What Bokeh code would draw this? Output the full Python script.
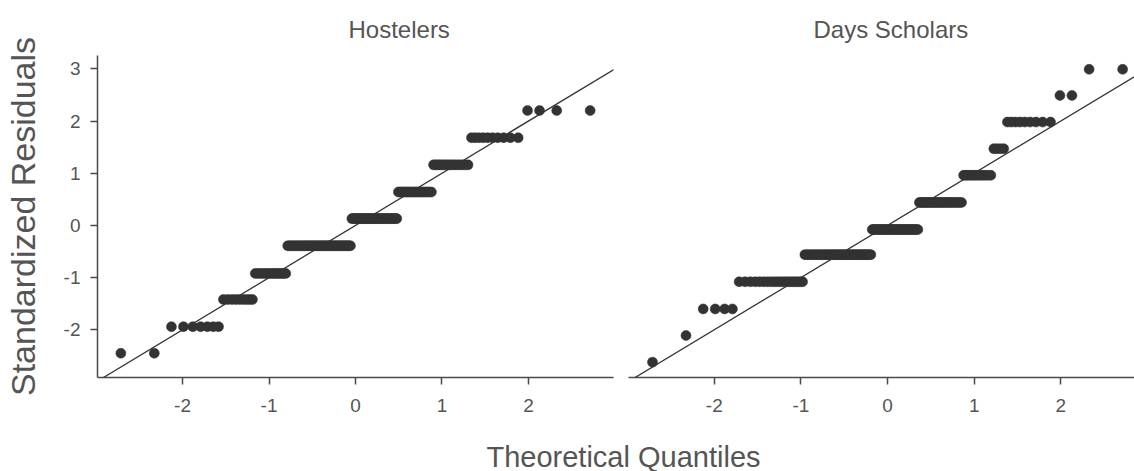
from statistics import NormalDist

import numpy as np
from bokeh.embed import file_html
from bokeh.layouts import column, row
from bokeh.models import FixedTicker, Label, Range1d, Slope
from bokeh.plotting import figure
from bokeh.resources import INLINE

# ---------------- data ----------------
panel_titles = ["Hostelers", "Days Scholars"]
x_title = "Theoretical Quantiles"
y_title = "Standardized Residuals"

# sorted standardized residuals: distinct levels and how many observations sit on each
hostelers_levels = [-2.45, -1.94, -1.42, -0.92, -0.39, 0.13, 0.64, 1.16, 1.68, 2.20]
hostelers_counts = [2, 7, 9, 14, 40, 31, 19, 14, 10, 4]

scholars_levels = [-2.62, -2.11, -1.60, -1.08, -0.56, -0.08, 0.44, 0.96, 1.47, 1.98, 2.49, 2.99]
scholars_counts = [1, 1, 4, 19, 39, 32, 25, 12, 4, 9, 2, 2]

x_ticks = [-2, -1, 0, 1, 2]
x_tick_labels = ["-2", "-1", "0", "1", "2"]
y_ticks = [-2, -1, 0, 1, 2, 3]
y_tick_labels = ["-2", "-1", "0", "1", "2", "3"]


def qq(levels, counts):
    """Sample residuals (sorted) against normal theoretical quantiles."""
    resid = np.repeat(np.asarray(levels, dtype=float), counts)
    n = len(resid)
    nd = NormalDist()
    theo = np.array([nd.inv_cdf((i + 0.5) / n) for i in range(n)])
    return theo, resid


# ---------------- styling ----------------
FONT = "Liberation Sans"
TXT = "#555555"
AXC = "#4a4a4a"
MARK = "#333333"


def style(p, show_y):
    p.xgrid.visible = False
    p.ygrid.visible = False
    p.outline_line_color = None
    p.background_fill_color = "white"
    p.border_fill_color = "white"

    axes = [p.xaxis[0]] + ([p.yaxis[0]] if show_y else [])
    for ax in axes:
        ax.axis_line_color = AXC
        ax.axis_line_width = 1.5
        ax.major_tick_line_color = AXC
        ax.major_tick_line_width = 1.5
        ax.major_tick_out = 7
        ax.major_tick_in = 0
        ax.minor_tick_line_color = None
        ax.major_label_text_font = FONT
        ax.major_label_text_font_size = "19px"
        ax.major_label_text_color = TXT
        ax.major_label_standoff = 10

    p.xaxis.major_label_standoff = 14
    p.xaxis.ticker = FixedTicker(ticks=x_ticks)
    p.xaxis.major_label_overrides = {t: s for t, s in zip(x_ticks, x_tick_labels)}
    if show_y:
        p.yaxis.ticker = FixedTicker(ticks=y_ticks)
        p.yaxis.major_label_overrides = {t: s for t, s in zip(y_ticks, y_tick_labels)}

    p.title.align = "left"
    p.title.text_font = FONT
    p.title.text_font_size = "24px"
    p.title.text_font_style = "normal"
    p.title.text_color = TXT
    p.title.standoff = 25


Y0, Y1 = -2.914, 3.255

p1 = figure(
    width=620, height=431,
    x_range=Range1d(-2.983, 2.983), y_range=Range1d(Y0, Y1),
    min_border_left=96, min_border_right=7, min_border_top=55, min_border_bottom=54,
    toolbar_location=None, output_backend="svg", title=panel_titles[0],
)
p2 = figure(
    width=514, height=431,
    x_range=Range1d(-2.99, 2.85), y_range=Range1d(Y0, Y1),
    min_border_left=8, min_border_right=0, min_border_top=55, min_border_bottom=54,
    y_axis_location=None,
    toolbar_location=None, output_backend="svg", title=panel_titles[1],
)

style(p1, True)
style(p2, False)
p1.title.offset = 251
p2.title.offset = 185

p1.yaxis.axis_label = y_title
p1.yaxis.axis_label_text_font = FONT
p1.yaxis.axis_label_text_font_size = "34px"
p1.yaxis.axis_label_text_font_style = "normal"
p1.yaxis.axis_label_text_color = TXT
p1.yaxis.axis_label_standoff = 19

for p, lv, ct in ((p1, hostelers_levels, hostelers_counts), (p2, scholars_levels, scholars_counts)):
    tx, ry = qq(lv, ct)
    p.add_layout(Slope(gradient=1, y_intercept=0, line_color=MARK, line_width=1.3))
    p.scatter(tx, ry, size=10, fill_color=MARK, line_color=MARK, line_width=0.5)

# shared x-axis title underneath both panels
p3 = figure(
    width=1134, height=40, x_range=Range1d(0, 1134), y_range=Range1d(0, 40),
    x_axis_type=None, y_axis_type=None,
    min_border_left=0, min_border_right=0, min_border_top=0, min_border_bottom=0,
    toolbar_location=None, output_backend="svg",
)
p3.grid.visible = False
p3.outline_line_color = None
p3.add_layout(Label(
    x=623, y=15, text=x_title,
    text_align="center", text_baseline="alphabetic",
    text_font=FONT, text_font_size="29px", text_color=TXT,
))

root = column(row(p1, p2), p3)

open("out.html", "w").write(file_html(root, INLINE))
